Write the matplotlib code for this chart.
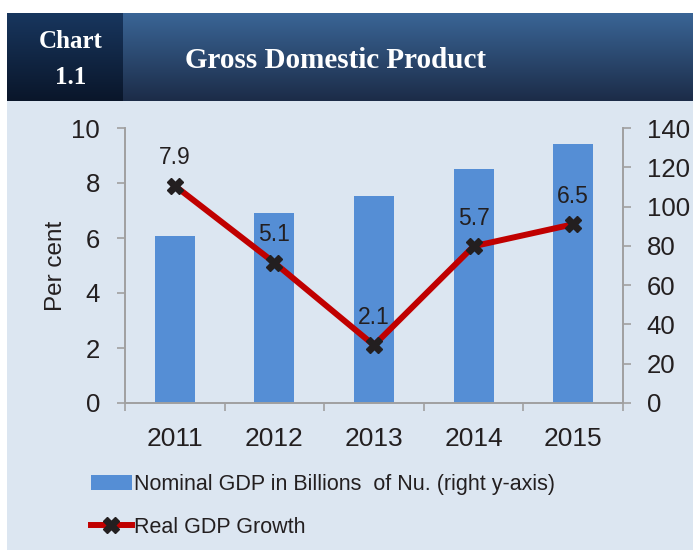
import matplotlib
matplotlib.use("Agg")
import matplotlib.pyplot as plt
import numpy as np
from matplotlib.lines import Line2D
from matplotlib.patches import Patch, Rectangle

years = ["2011", "2012", "2013", "2014", "2015"]
nominal_gdp = [85.0, 96.9, 105.4, 119.1, 131.9]
real_growth = [7.9, 5.1, 2.1, 5.7, 6.5]

W, H = 693, 550
fig = plt.figure(figsize=(W / 100, H / 100), dpi=100)
fig.patch.set_facecolor("white")

def fx(px):
    return px / W

def fy(py):
    return 1 - py / H

bg = "#dce6f1"
# light background panel
fig.add_artist(Rectangle((fx(7), 0), 1 - fx(7), fy(101), transform=fig.transFigure,
                         facecolor=bg, edgecolor="none", zorder=0))

# header gradients
hdr = fig.add_axes([fx(7), fy(101), 1 - fx(7), (101 - 13) / H], zorder=1)
hdr.set_axis_off()
grad = np.linspace(0, 1, 100).reshape(-1, 1)
top_r = np.array([0x3a, 0x65, 0x96]) / 255
bot_r = np.array([0x1c, 0x2c, 0x48]) / 255
img = top_r[None, None, :] * (1 - grad[:, :, None]) + bot_r[None, None, :] * grad[:, :, None]
hdr.imshow(img, aspect="auto", extent=[0, 1, 0, 1], origin="upper")
bx = (123 - 7) / (W - 7)
top_l = np.array([0x18, 0x36, 0x5e]) / 255
bot_l = np.array([0x0a, 0x16, 0x2a]) / 255
img2 = top_l[None, None, :] * (1 - grad[:, :, None]) + bot_l[None, None, :] * grad[:, :, None]
hdr.imshow(img2, aspect="auto", extent=[0, bx, 0, 1], origin="upper")
hdr.set_xlim(0, 1)
hdr.set_ylim(0, 1)

serif = "Liberation Serif"
fig.text(fx(71), fy(42), "Chart", color="white", fontsize=18, fontweight="bold",
         family=serif, ha="center", va="center")
fig.text(fx(71), fy(77), "1.1", color="white", fontsize=18, fontweight="bold",
         family=serif, ha="center", va="center")
fig.text(fx(185), fy(61), "Gross Domestic Product", color="white", fontsize=21,
         fontweight="bold", family=serif, ha="left", va="center")

plt.rcParams["font.family"] = ["Liberation Sans", "DejaVu Sans"]

ax = fig.add_axes([fx(125), fy(403), (623 - 125) / W, (403 - 128) / H], zorder=3)
ax2 = ax.twinx()
ax.set_zorder(ax2.get_zorder() + 1)
ax.patch.set_visible(False)
ax2.patch.set_visible(False)

x = np.arange(len(years))
bar_color = "#558ed5"
ax2.bar(x, nominal_gdp, width=0.4, color=bar_color, zorder=2)
ax2.set_ylim(0, 140)
ax2.set_yticks(np.arange(0, 141, 20))

line_color = "#c00000"
ax.plot(x, real_growth, color=line_color, lw=4.3, marker="X", markersize=11,
        markerfacecolor="#231f20", markeredgecolor="#231f20", zorder=5)
for xi, v in zip(x, real_growth):
    ax.annotate(f"{v}", (xi, v), xytext=(0, 20), textcoords="offset points",
                ha="center", va="center", fontsize=16.5, color="#231f20")

ax.set_ylim(0, 10)
ax.set_yticks(np.arange(0, 11, 2))
ax.set_xlim(-0.5, len(years) - 0.5)
ax.set_xticks(x)
ax.set_xticklabels(years)
ax.set_xticks(np.arange(-0.5, len(years)), minor=True)
ax.tick_params(axis="x", which="major", length=0, pad=17)
ax.tick_params(axis="x", which="minor", length=6, color="#a0a0a0", width=1.2)
ax.set_ylabel("Per cent", fontsize=17.5, color="#231f20", labelpad=3)

spine_c = "#a0a0a0"
for a in (ax, ax2):
    for s in a.spines.values():
        s.set_visible(False)
ax.spines["left"].set_visible(True)
ax.spines["bottom"].set_visible(True)
ax2.spines["right"].set_visible(True)
for s in (ax.spines["left"], ax.spines["bottom"], ax2.spines["right"]):
    s.set_color(spine_c)
    s.set_linewidth(1.4)
ax.tick_params(axis="y", length=6, color=spine_c, width=1.2, labelsize=18.5,
               labelcolor="#231f20", pad=12)
ax.tick_params(axis="x", labelsize=19, labelcolor="#231f20")
ax2.tick_params(axis="y", length=6, color=spine_c, width=1.2, labelsize=18.5,
                labelcolor="#231f20", pad=11)

handles = [Patch(facecolor=bar_color, edgecolor="none"),
           Line2D([0], [0], color=line_color, lw=4.3, marker="X", markersize=11,
                  markerfacecolor="#231f20", markeredgecolor="#231f20")]
labels = ["Nominal GDP in Billions  of Nu. (right y-axis)", "Real GDP Growth"]
fig.legend(handles, labels, loc="upper left", bbox_to_anchor=(fx(91), fy(474)),
           frameon=False, fontsize=15.5, handlelength=1.9, handletextpad=0.12,
           labelspacing=1.0, labelcolor="#231f20", borderpad=0, borderaxespad=0)

fig.savefig("out.png", dpi=100)
